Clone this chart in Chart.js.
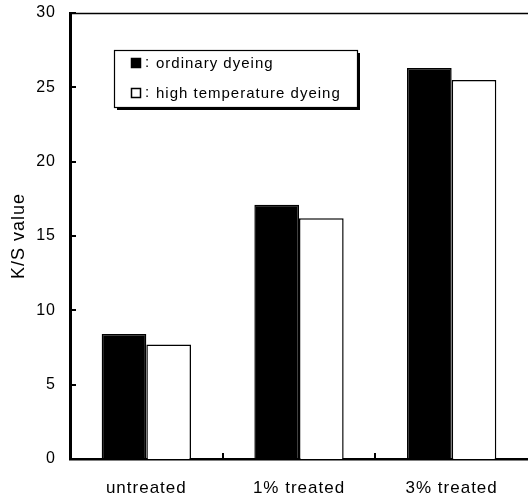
<!DOCTYPE html>
<html>
<head>
<meta charset="utf-8">
<title>K/S value</title>
<script src="https://cdn.jsdelivr.net/npm/chart.js@4"></script>
<style>
  body { margin: 0; background: #fff; }
  canvas { display: block; }
</style>
</head>
<body>
<canvas id="ksChart" width="528" height="498"></canvas>
<script>
// K/S values per treatment
const categories = ['untreated', '1% treated', '3% treated'];
const ordinaryDyeing = [8.4, 17.1, 26.3];
const highTempDyeing = [7.7, 16.2, 25.5];
const yTicks = [0, 5, 10, 15, 20, 25, 30];
const seriesNames = ['ordinary dyeing', 'high temperature dyeing'];

const FONT = '"Liberation Sans", Arial, sans-serif';

// frame line on top, inward tick marks and the boxed legend
const framePlugin = {
    id: 'frame',
    beforeDraw(chart) {
        chart.ctx.letterSpacing = '1px';
    },
    afterDraw(chart) {
        const ctx = chart.ctx;
        const area = chart.chartArea;
        const x = chart.scales.x;
        const y = chart.scales.y;
        ctx.save();
        ctx.strokeStyle = '#000';

        // top line
        ctx.lineWidth = 1.5;
        ctx.beginPath();
        ctx.moveTo(area.left, area.top + 0.5);
        ctx.lineTo(chart.width, area.top + 0.5);
        ctx.stroke();

        // y ticks pointing inside
        ctx.lineWidth = 2;
        yTicks.forEach(v => {
            const py = Math.round(y.getPixelForValue(v));
            ctx.beginPath();
            ctx.moveTo(area.left, py);
            ctx.lineTo(area.left + 6, py);
            ctx.stroke();
        });

        // x ticks between categories
        for (let i = 0; i < categories.length - 1; i++) {
            const px = Math.round((x.getPixelForValue(i) + x.getPixelForValue(i + 1)) / 2);
            ctx.beginPath();
            ctx.moveTo(px, area.bottom);
            ctx.lineTo(px, area.bottom - 6);
            ctx.stroke();
        }

        // legend box with shadow
        const bx = 114, by = 50, bw = 243, bh = 57;
        ctx.fillStyle = '#000';
        ctx.fillRect(bx + 3, by + 3, bw, bh);
        ctx.fillStyle = '#fff';
        ctx.fillRect(bx, by, bw, bh);
        ctx.lineWidth = 1.2;
        ctx.strokeRect(bx + 0.5, by + 0.5, bw, bh);

        ctx.font = '15px ' + FONT;
        ctx.textBaseline = 'middle';
        ctx.letterSpacing = '1px';
        chart.data.datasets.forEach((ds, i) => {
            const ry = by + 13 + i * 30;
            ctx.fillStyle = ds.backgroundColor;
            ctx.fillRect(131, ry - 5, 10, 10);
            ctx.strokeStyle = '#000';
            ctx.lineWidth = 1.5;
            ctx.strokeRect(131.5, ry - 4.5, 9, 9);
            ctx.fillStyle = '#000';
            ctx.fillText(':', 145, ry);
            ctx.fillText(ds.label, 156, ry + 1);
        });
        ctx.restore();
    }
};

const ctx = document.getElementById('ksChart').getContext('2d');
const ksChart = new Chart(ctx, {
    type: 'bar',
    data: {
        labels: categories,
        datasets: [{
            label: seriesNames[0],
            data: ordinaryDyeing,
            backgroundColor: '#000',
            borderColor: '#000',
            borderWidth: 1.5
        }, {
            label: seriesNames[1],
            data: highTempDyeing,
            backgroundColor: '#fff',
            borderColor: '#000',
            borderWidth: 1.5
        }]
    },
    options: {
        responsive: false,
        animation: false,
        layout: { padding: { top: 13, right: 0, left: 0, bottom: 0 } },
        datasets: {
            bar: { categoryPercentage: 0.585, barPercentage: 1 }
        },
        plugins: {
            legend: { display: false },
            tooltip: { enabled: false }
        },
        scales: {
            x: {
                grid: { display: false, drawTicks: false },
                border: { display: true, color: '#000', width: 2.5 },
                ticks: {
                    color: '#000',
                    padding: 19,
                    maxRotation: 0,
                    font: { family: FONT, size: 17 }
                },
                afterFit(scale) { scale.height = 39; }
            },
            y: {
                min: 0,
                max: 30,
                afterBuildTicks(scale) {
                    scale.ticks = yTicks.map(v => ({ value: v }));
                },
                grid: { display: false, drawTicks: false },
                border: { display: true, color: '#000', width: 3 },
                ticks: {
                    color: '#000',
                    padding: 14,
                    font: { family: FONT, size: 16 }
                },
                title: {
                    display: true,
                    text: 'K/S value',
                    color: '#000',
                    padding: { top: 8, bottom: 4 },
                    font: { family: FONT, size: 18 }
                },
                afterFit(scale) {
                    scale.width = 70;
                    scale.paddingTop = 0;
                    scale.paddingBottom = 0;
                }
            }
        }
    },
    plugins: [framePlugin]
});
</script>
</body>
</html>
